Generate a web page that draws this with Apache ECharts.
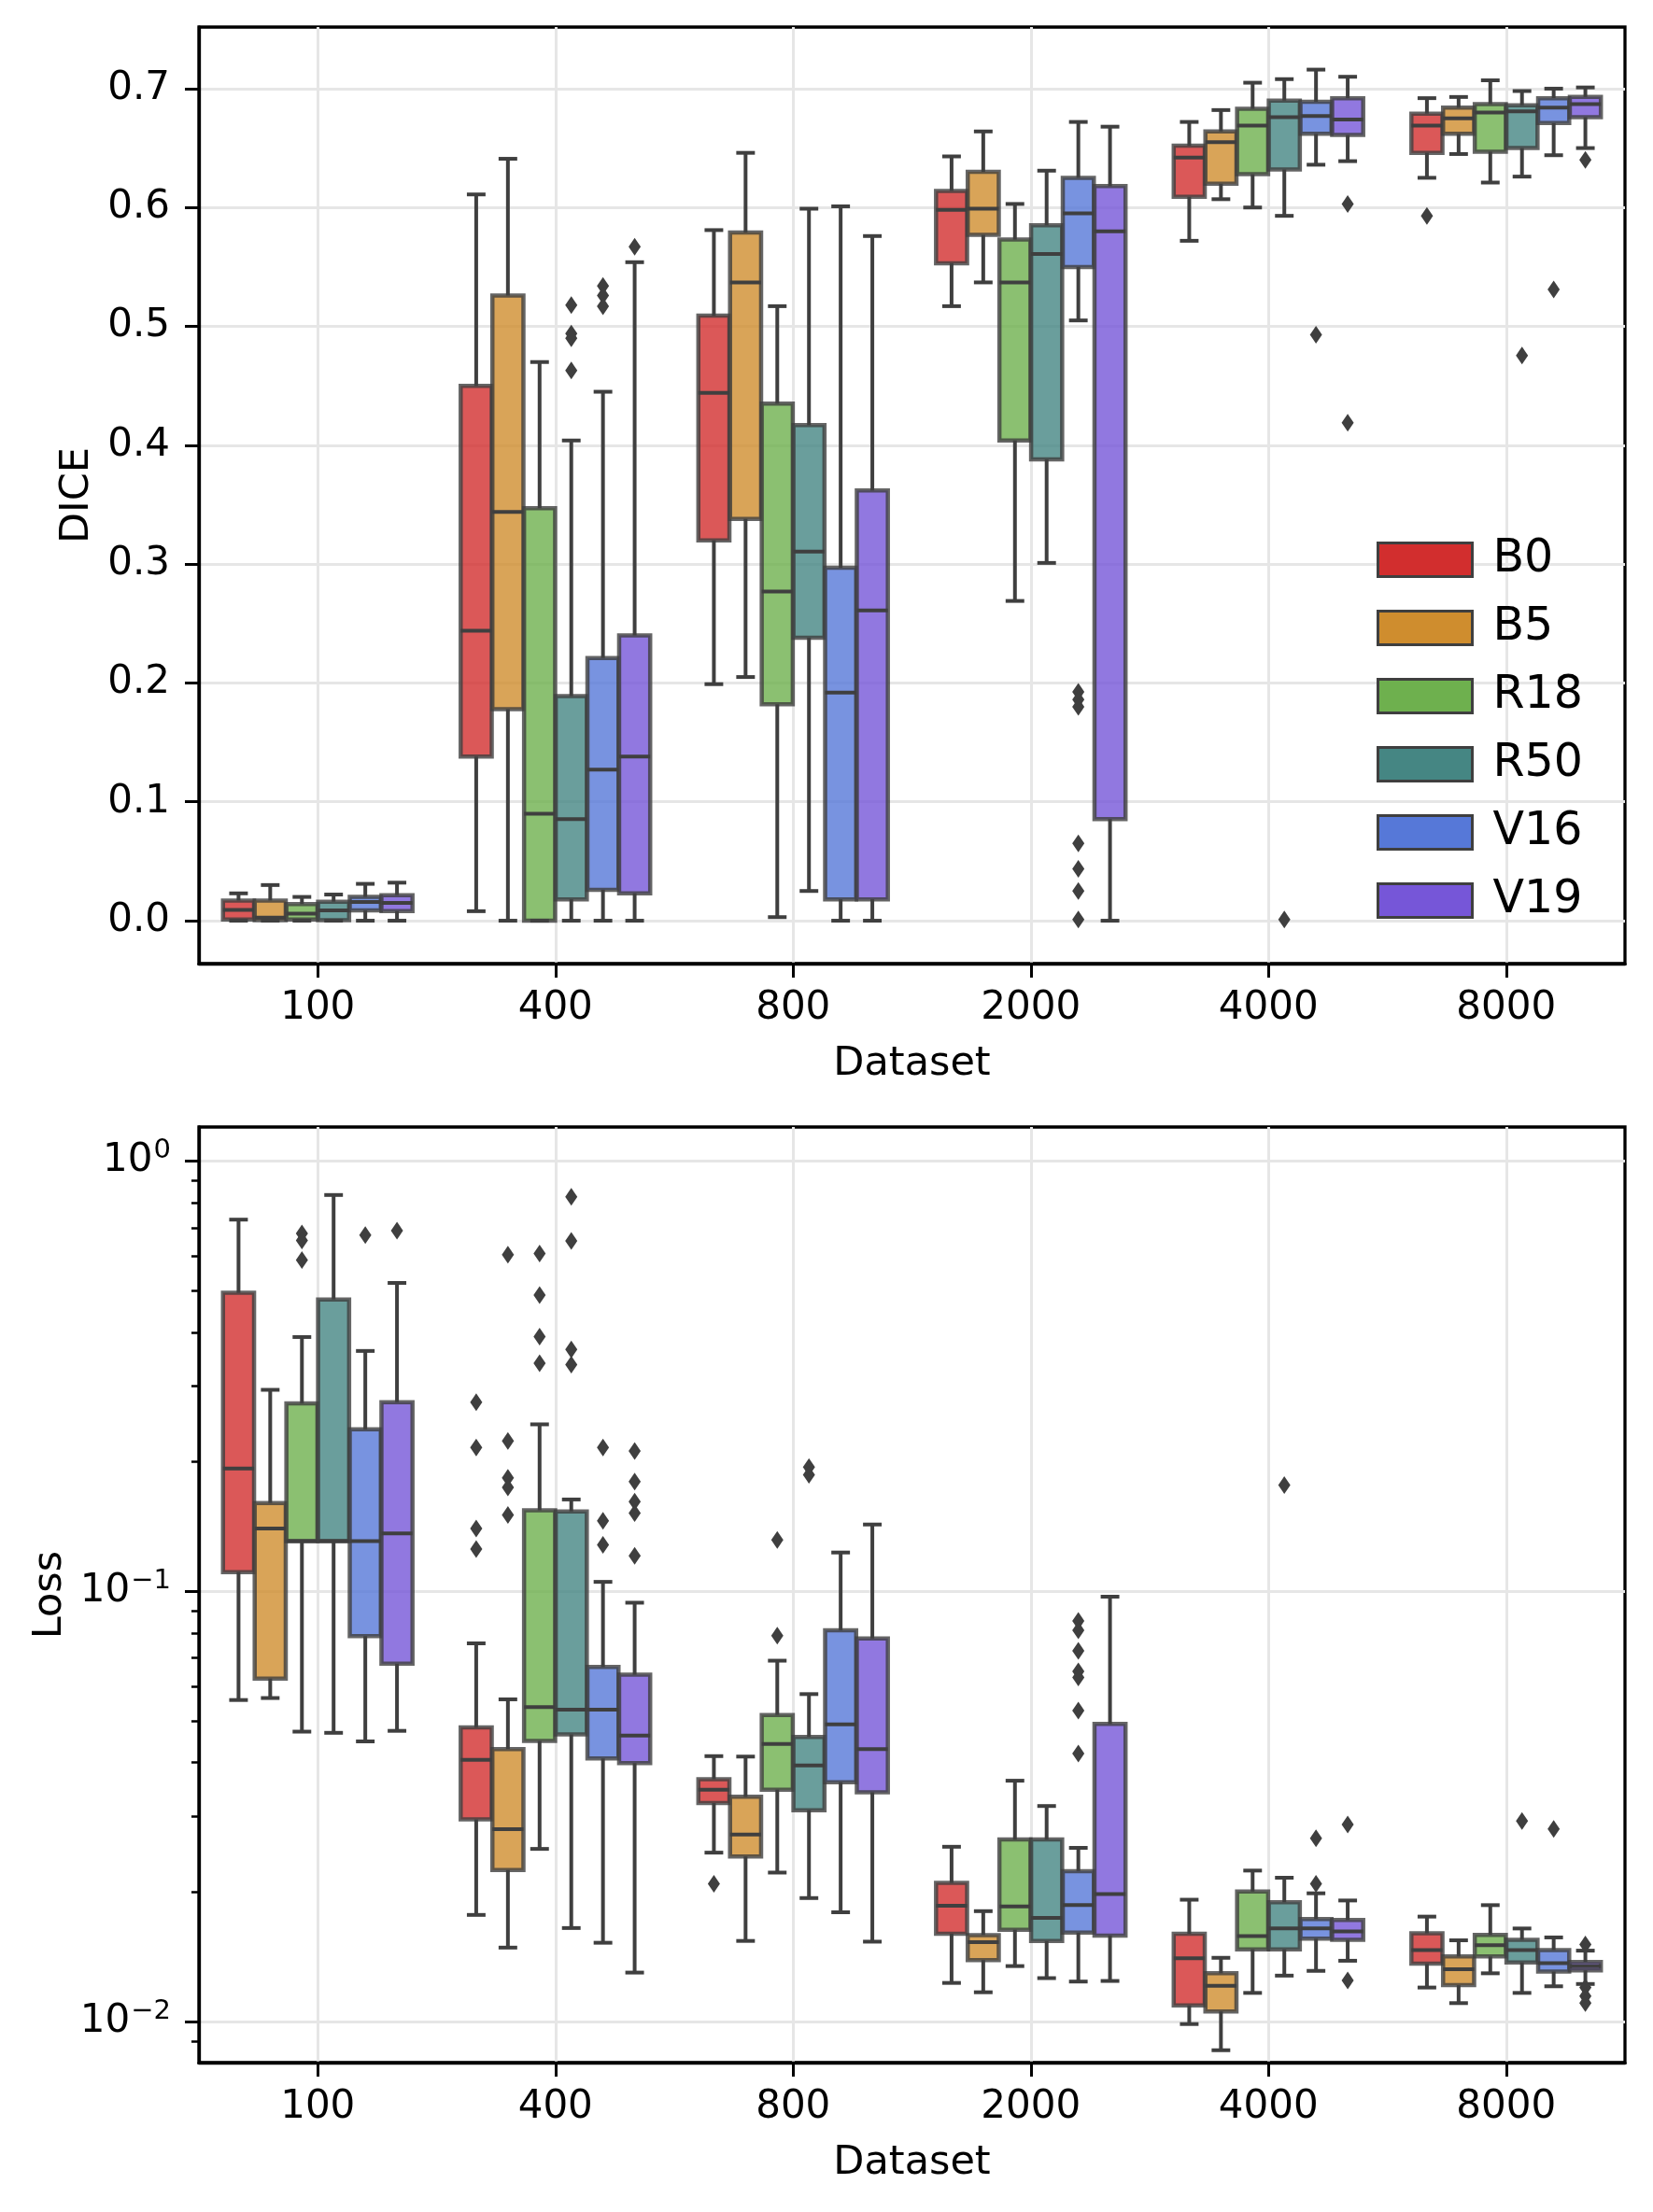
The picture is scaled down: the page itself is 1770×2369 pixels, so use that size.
<!DOCTYPE html>
<html>
<head>
<meta charset="utf-8">
<script src="https://cdn.jsdelivr.net/npm/echarts@6/dist/echarts.min.js"></script>
<style>
  html, body { margin: 0; padding: 0; background: #fff; }
  #main { width: 1770px; height: 2369px; }
</style>
</head>
<body>
<div id="main"></div>
<script>
// categories and hue models
var categories = ['100', '400', '800', '2000', '4000', '8000'];
var models = ['B0', 'B5', 'R18', 'R50', 'V16', 'V19'];
var modelColors = ['#d22e2e', '#cf8d2e', '#6eb04e', '#458683', '#5678d8', '#7656d8'];

// DICE: one row per dataset size -> [min, q1, median, q3, max]
var diceB0 = [[0, 0.001, 0.009, 0.017, 0.023], [0.008, 0.138, 0.244, 0.450, 0.611], [0.199, 0.320, 0.444, 0.509, 0.581], [0.517, 0.553, 0.598, 0.614, 0.643], [0.572, 0.609, 0.642, 0.652, 0.672], [0.625, 0.646, 0.669, 0.679, 0.692]];
var diceB5 = [[0, 0.0005, 0.0026, 0.017, 0.030], [0, 0.178, 0.344, 0.526, 0.641], [0.205, 0.338, 0.537, 0.579, 0.646], [0.537, 0.577, 0.599, 0.630, 0.664], [0.607, 0.620, 0.655, 0.664, 0.682], [0.645, 0.662, 0.675, 0.684, 0.693]];
var diceR18 = [[0, 0.001, 0.006, 0.014, 0.020], [0, 0, 0.090, 0.347, 0.470], [0.003, 0.182, 0.277, 0.435, 0.517], [0.269, 0.404, 0.537, 0.573, 0.603], [0.600, 0.628, 0.669, 0.683, 0.705], [0.621, 0.647, 0.680, 0.687, 0.707]];
var diceR50 = [[0, 0.0005, 0.0086, 0.016, 0.022], [0, 0.018, 0.0855, 0.189, 0.404], [0.025, 0.238, 0.3105, 0.417, 0.599], [0.301, 0.388, 0.561, 0.585, 0.631], [0.593, 0.632, 0.676, 0.690, 0.708], [0.626, 0.650, 0.681, 0.686, 0.698]];
var diceV16 = [[0, 0.0086, 0.0157, 0.020, 0.031], [0, 0.026, 0.127, 0.221, 0.445], [0, 0.018, 0.192, 0.297, 0.601], [0.505, 0.550, 0.595, 0.625, 0.672], [0.636, 0.662, 0.677, 0.689, 0.716], [0.644, 0.671, 0.684, 0.692, 0.700]];
var diceV19 = [[0, 0.008, 0.015, 0.0215, 0.032], [0, 0.023, 0.138, 0.240, 0.554], [0, 0.018, 0.261, 0.362, 0.576], [0, 0.0855, 0.580, 0.618, 0.668], [0.639, 0.661, 0.674, 0.692, 0.710], [0.650, 0.676, 0.687, 0.693, 0.701]];

// DICE outliers: [dataset index, value]
var diceOutB0 = [[5, 0.593]];
var diceOutB5 = [];
var diceOutR18 = [];
var diceOutR50 = [[1, 0.518], [1, 0.494], [1, 0.490], [1, 0.463], [4, 0.001], [5, 0.4755]];
var diceOutV16 = [[1, 0.534], [1, 0.526], [1, 0.517], [3, 0.1925], [3, 0.186], [3, 0.180], [3, 0.065], [3, 0.0436], [3, 0.025], [3, 0.001], [4, 0.493], [5, 0.531]];
var diceOutV19 = [[1, 0.567], [4, 0.603], [4, 0.419], [5, 0.640]];

// Loss (log scale)
var lossB0 = [[0.0559, 0.1108, 0.193, 0.494, 0.731], [0.0177, 0.0295, 0.0406, 0.0483, 0.0757], [0.0247, 0.0322, 0.0346, 0.0366, 0.0414], [0.0123, 0.0160, 0.01858, 0.0210, 0.02549], [0.00987, 0.0109, 0.01403, 0.0160, 0.0192], [0.0120, 0.01363, 0.01467, 0.01604, 0.01754]];
var lossB5 = [[0.0565, 0.0627, 0.140, 0.1604, 0.294], [0.01486, 0.0225, 0.0280, 0.0430, 0.0561], [0.0154, 0.0242, 0.0272, 0.0333, 0.0413], [0.0117, 0.0139, 0.01529, 0.01589, 0.01806], [0.00858, 0.01056, 0.01211, 0.01295, 0.01407], [0.01104, 0.01215, 0.01324, 0.01417, 0.01545]];
var lossR18 = [[0.0472, 0.1308, 0.1308, 0.2735, 0.390], [0.0252, 0.0449, 0.0538, 0.1543, 0.2444], [0.0222, 0.0346, 0.0442, 0.0516, 0.0690], [0.01346, 0.01635, 0.01852, 0.0265, 0.0363], [0.01166, 0.01472, 0.0158, 0.02006, 0.02244], [0.01295, 0.01417, 0.01505, 0.0159, 0.01865]];
var lossR50 = [[0.0469, 0.1308, 0.1308, 0.477, 0.834], [0.0165, 0.0465, 0.0531, 0.1534, 0.1635], [0.01937, 0.0310, 0.0394, 0.0459, 0.0577], [0.01262, 0.01539, 0.01743, 0.0265, 0.0317], [0.01279, 0.01472, 0.01646, 0.01894, 0.0216], [0.01166, 0.01372, 0.01467, 0.01549, 0.01646]];
var lossV16 = [[0.0448, 0.0787, 0.1308, 0.238, 0.362], [0.01525, 0.0409, 0.0531, 0.0667, 0.1052], [0.01795, 0.0360, 0.0491, 0.0812, 0.1231], [0.01239, 0.0161, 0.01865, 0.02238, 0.02534], [0.01312, 0.01559, 0.01646, 0.01731, 0.01987], [0.01208, 0.01307, 0.01368, 0.01467, 0.01569]];
var lossV19 = [[0.0474, 0.0679, 0.1363, 0.275, 0.521], [0.0130, 0.0399, 0.0462, 0.0640, 0.0941], [0.01534, 0.0341, 0.0430, 0.0777, 0.143], [0.01243, 0.01585, 0.0198, 0.0492, 0.0972], [0.01385, 0.01549, 0.0162, 0.01722, 0.01912], [0.01223, 0.01316, 0.01346, 0.01376, 0.01462]];

var lossOutB0 = [[1, 0.275], [1, 0.216], [1, 0.140], [1, 0.1254], [2, 0.0209]];
var lossOutB5 = [[1, 0.606], [1, 0.2237], [1, 0.1835], [1, 0.1743], [1, 0.1505]];
var lossOutR18 = [[0, 0.679], [0, 0.654], [0, 0.589], [1, 0.610], [1, 0.488], [1, 0.391], [1, 0.339], [2, 0.1316], [2, 0.0789]];
var lossOutR50 = [[1, 0.826], [1, 0.652], [1, 0.365], [1, 0.3366], [2, 0.1943], [2, 0.1865], [4, 0.1766], [5, 0.02924]];
var lossOutV16 = [[0, 0.673], [1, 0.216], [1, 0.1458], [1, 0.1283], [3, 0.0853], [3, 0.0812], [3, 0.0727], [3, 0.0652], [3, 0.0631], [3, 0.0528], [3, 0.0420], [4, 0.02666], [4, 0.0209], [5, 0.02805]];
var lossOutV19 = [[0, 0.689], [1, 0.212], [1, 0.180], [1, 0.1615], [1, 0.152], [1, 0.121], [4, 0.0287], [4, 0.01247], [5, 0.0151], [5, 0.0120], [5, 0.01147], [5, 0.01104]];

// tick values
var diceTicks = [0, 0.1, 0.2, 0.3, 0.4, 0.5, 0.6, 0.7];
var lossTicks = [0.01, 0.1, 1];
var lossMinorTicks = [0.009, 0.02, 0.03, 0.04, 0.05, 0.06, 0.07, 0.08, 0.09, 0.2, 0.3, 0.4, 0.5, 0.6, 0.7, 0.8, 0.9];

var diceBoxes = [diceB0, diceB5, diceR18, diceR50, diceV16, diceV19];
var diceOut = [diceOutB0, diceOutB5, diceOutR18, diceOutR50, diceOutV16, diceOutV19];
var lossBoxes = [lossB0, lossB5, lossR18, lossR50, lossV16, lossV19];
var lossOut = [lossOutB0, lossOutB5, lossOutR18, lossOutR50, lossOutV16, lossOutV19];

var FONT = 'DejaVu Sans';
var EDGE = '#3f3f3f';

function hexA(hex, a) {
	var r = parseInt(hex.slice(1, 3), 16), g = parseInt(hex.slice(3, 5), 16), b = parseInt(hex.slice(5, 7), 16);
	return 'rgba(' + r + ',' + g + ',' + b + ',' + a + ')';
}

// box of hue h, dodged inside the category band
function boxRender(h) {
	return function (params, api) {
		var c = api.value(0);
		var band = api.size([1, 0], [c, 0.1])[0];
		var slot = band * 0.8 / 6;
		var bw = slot * 0.98;
		var cap = bw * 0.6;
		var cx = api.coord([c, api.value(3)])[0] + (h - 2.5) * slot;
		var yMin = api.coord([c, api.value(1)])[1];
		var yQ1 = api.coord([c, api.value(2)])[1];
		var yMed = api.coord([c, api.value(3)])[1];
		var yQ3 = api.coord([c, api.value(4)])[1];
		var yMax = api.coord([c, api.value(5)])[1];
		var line = { stroke: EDGE, lineWidth: 4 };
		return {
			type: 'group',
			children: [
				{ type: 'rect', shape: { x: cx - bw / 2, y: yQ3, width: bw, height: yQ1 - yQ3 },
				  style: { fill: hexA(modelColors[h], 0.8), stroke: 'rgba(63,63,63,0.8)', lineWidth: 4.5 } },
				{ type: 'line', shape: { x1: cx, y1: yQ1, x2: cx, y2: yMin }, style: line },
				{ type: 'line', shape: { x1: cx, y1: yQ3, x2: cx, y2: yMax }, style: line },
				{ type: 'line', shape: { x1: cx - cap / 2, y1: yMin, x2: cx + cap / 2, y2: yMin }, style: line },
				{ type: 'line', shape: { x1: cx - cap / 2, y1: yMax, x2: cx + cap / 2, y2: yMax }, style: line },
				{ type: 'line', shape: { x1: cx - bw / 2, y1: yMed, x2: cx + bw / 2, y2: yMed }, style: line }
			]
		};
	};
}

// thin diamond outlier
function outRender(h) {
	return function (params, api) {
		var c = api.value(0);
		var band = api.size([1, 0], [c, 0.1])[0];
		var slot = band * 0.8 / 6;
		var p = api.coord([c, api.value(1)]);
		var cx = p[0] + (h - 2.5) * slot, cy = p[1];
		return {
			type: 'polygon',
			shape: { points: [[cx, cy - 9.5], [cx + 6.5, cy], [cx, cy + 9.5], [cx - 6.5, cy]] },
			style: { fill: EDGE }
		};
	};
}

var series = [];
for (var g = 0; g < 2; g++) {
	var boxes = g === 0 ? diceBoxes : lossBoxes;
	var outs = g === 0 ? diceOut : lossOut;
	models.forEach(function (m, h) {
		series.push({
			name: m,
			type: 'custom',
			xAxisIndex: g,
			yAxisIndex: g === 0 ? 0 : 1,
			itemStyle: { color: modelColors[h] },
			renderItem: boxRender(h),
			encode: { x: 0, y: [1, 2, 3, 4, 5] },
			data: boxes[h].map(function (b, i) { return [i].concat(b); }),
			z: 3
		});
		series.push({
			name: m + ' outliers',
			type: 'custom',
			xAxisIndex: g,
			yAxisIndex: g === 0 ? 0 : 1,
			renderItem: outRender(h),
			encode: { x: 0, y: 1 },
			data: outs[h],
			z: 4
		});
	});
}

function xAxisFor(gi) {
	return {
		type: 'category',
		gridIndex: gi,
		position: 'bottom',
		data: categories,
		name: 'Dataset',
		nameLocation: 'middle',
		nameGap: 86,
		nameTextStyle: { fontSize: 43, color: '#000', fontFamily: FONT },
		axisLine: { show: true, onZero: false, lineStyle: { color: '#000', width: 3.3 } },
		axisTick: { show: true, alignWithLabel: true, length: 15, lineStyle: { color: '#000', width: 3 } },
		axisLabel: { interval: 0, fontSize: 42, color: '#000', fontFamily: FONT, margin: 27 },
		splitLine: { show: true, alignWithLabel: true, lineStyle: { color: '#e6e6e6', width: 3 } }
	};
}

var supMap = { '-': '\u2212' };
var option = {
	animation: false,
	backgroundColor: '#fff',
	textStyle: { fontFamily: FONT },
	grid: [
		{ left: 213, top: 29, width: 1527, height: 1003, show: true, borderColor: '#000', borderWidth: 3.3, backgroundColor: 'transparent' },
		{ left: 213, top: 1207, width: 1527, height: 1002, show: true, borderColor: '#000', borderWidth: 3.3, backgroundColor: 'transparent' }
	],
	legend: {
		data: models,
		orient: 'vertical',
		left: 1469,
		top: 570,
		icon: 'rect',
		itemWidth: 101,
		itemHeight: 36,
		itemGap: 24,
		itemStyle: { borderColor: EDGE, borderWidth: 3 },
		textStyle: { fontSize: 49, lineHeight: 49, color: '#000', fontFamily: FONT, padding: [0, 0, 0, 17] },
		selectedMode: false
	},
	xAxis: [xAxisFor(0), xAxisFor(1)],
	yAxis: [
		{
			type: 'value',
			gridIndex: 0,
			position: 'left',
			min: -0.0361,
			max: 0.7518,
			name: 'DICE',
			nameLocation: 'middle',
			nameGap: 107,
			nameTextStyle: { fontSize: 43, color: '#000', fontFamily: FONT },
			axisLine: { show: true, lineStyle: { color: '#000', width: 3.3 } },
			axisTick: { show: true, length: 15, customValues: diceTicks, lineStyle: { color: '#000', width: 3 } },
			axisLabel: { customValues: diceTicks, fontSize: 42, color: '#000', fontFamily: FONT, margin: 31,
				formatter: function (v) { return v.toFixed(1); } },
			splitLine: { show: true, lineStyle: { color: '#e6e6e6', width: 3 } }
		},
		{
			type: 'log',
			gridIndex: 1,
			position: 'left',
			logBase: 10,
			min: 0.00803,
			max: 1.2,
			name: 'Loss',
			nameLocation: 'middle',
			nameGap: 136,
			nameTextStyle: { fontSize: 43, color: '#000', fontFamily: FONT },
			axisLine: { show: true, lineStyle: { color: '#000', width: 3.3 } },
			axisTick: { show: true, length: 15, customValues: lossTicks, lineStyle: { color: '#000', width: 3 } },
			axisLabel: {
				customValues: lossTicks, color: '#000', fontFamily: FONT, margin: 30,
				formatter: function (v) {
					var e = Math.round(Math.log10(v));
					var s = String(e).replace('-', supMap['-']);
					return '{b|10}{s|' + s + '}';
				},
				rich: {
					b: { fontSize: 42, color: '#000', fontFamily: FONT, lineHeight: 50 },
					s: { fontSize: 29, color: '#000', fontFamily: FONT, lineHeight: 50, padding: [0, 0, 22, 1] }
				}
			},
			splitLine: { show: true, lineStyle: { color: '#e6e6e6', width: 3 } }
		},
		{
			type: 'log',
			gridIndex: 1,
			position: 'left',
			offset: 0,
			logBase: 10,
			min: 0.00803,
			max: 1.2,
			axisLine: { show: false },
			axisTick: { show: true, length: 8, customValues: lossMinorTicks, lineStyle: { color: '#000', width: 2.5 } },
			axisLabel: { show: false },
			splitLine: { show: false }
		}
	],
	series: series
};

var chart = echarts.init(document.getElementById('main'), null, { renderer: 'canvas' });
chart.setOption(option);
</script>
</body>
</html>
